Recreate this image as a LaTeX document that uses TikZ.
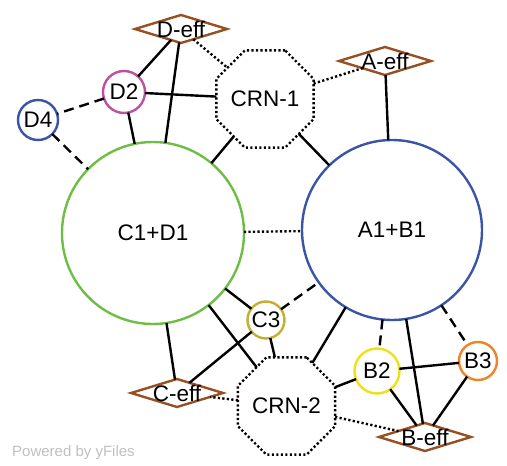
\documentclass[tikz,border=0pt]{standalone}
\usepackage{fontspec}
\setmainfont{Liberation Sans}
\usetikzlibrary{shapes.geometric}
\definecolor{cgreen}{RGB}{110,190,70}
\definecolor{cblue}{RGB}{59,85,166}
\definecolor{cmag}{RGB}{190,80,160}
\definecolor{colive}{RGB}{196,176,48}
\definecolor{cyel}{RGB}{238,225,26}
\definecolor{corange}{RGB}{240,130,40}
\definecolor{cbrown}{RGB}{150,80,35}
\tikzset{
  lbl/.style={font=\fontsize{22.5}{27}\selectfont},
  circ/.style={circle, draw=#1, line width=2.4pt, inner sep=0pt, outer sep=0pt, lbl},
  octa/.style={regular polygon, regular polygon sides=8, draw=black, line width=2.4pt,
    dash pattern=on 2.2pt off 2.3pt, inner sep=0pt, outer sep=0pt, lbl},
  dia/.style={diamond, draw=cbrown, line width=2.4pt, minimum width=92pt, minimum height=28pt,
    inner sep=0pt, outer sep=0pt, label={[lbl, inner sep=0pt]center:#1}},
  solidedge/.style={draw=black, line width=2.4pt},
  dashedge/.style={draw=black, line width=2.4pt, dash pattern=on 10pt off 6pt},
  dotedge/.style={draw=black, line width=2.4pt, dash pattern=on 2.2pt off 2.3pt},
}
\begin{document}
\begin{tikzpicture}[x=1pt,y=-1pt]
\useasboundingbox (0,0) rectangle (507,466);
% nodes
\node[circ=cgreen, minimum size=182pt] (CD) at (153,233) {C1+D1};
\node[circ=cblue, minimum size=180pt] (AB) at (392,230) {A1+B1};
\node[octa, minimum size=97.4pt] (CRN1) at (265,99) {CRN-1};
\node[octa, minimum size=89.8pt] (CRN2) at (286.5,406) {CRN-2};
\node[dia=D-eff] (Deff) at (181,29) {};
\node[dia=A-eff] (Aeff) at (385,61) {};
\node[dia=C-eff] (Ceff) at (177,393) {};
\node[dia=B-eff] (Beff) at (425,437) {};
\node[circ=cmag, minimum size=42pt] (D2) at (124,92) {D2};
\node[circ=cblue, minimum size=40pt] (D4) at (38,120) {D4};
\node[circ=colive, minimum size=37pt] (C3) at (266,320) {C3};
\node[circ=cyel, minimum size=45pt] (B2) at (377,371) {B2};
\node[circ=corange, minimum size=38pt] (B3) at (478,361) {B3};
% edges
\path[solidedge] (Deff) -- (D2);
\path[solidedge] (Deff) -- (CD);
\path[dotedge] (Deff) -- (CRN1);
\path[solidedge] (D2) -- (CRN1);
\path[solidedge] (D2) -- (CD);
\path[dashedge] (D2) -- (D4);
\path[dashedge] (D4) -- (CD);
\path[solidedge] (CRN1) -- (CD);
\path[solidedge] (CRN1) -- (AB);
\path[dotedge] (CRN1) -- (Aeff);
\path[solidedge] (Aeff) -- (AB);
\path[dotedge] (CD) -- (AB);
\path[solidedge] (CD) -- (C3);
\path[solidedge] (CD) -- (CRN2);
\path[solidedge] (CD) -- (Ceff);
\path[solidedge] (C3) -- (Ceff);
\path[solidedge] (C3) -- (CRN2);
\path[dashedge] (C3) -- (AB);
\path[solidedge] (AB) -- (CRN2);
\path[dashedge] (AB) -- (B2);
\path[solidedge] (AB) -- (Beff);
\path[dashedge] (AB) -- (B3);
\path[solidedge] (B2) -- (B3);
\path[solidedge] (B2) -- (Beff);
\path[solidedge] (B3) -- (Beff);
\path[solidedge] (B2) -- (CRN2);
\path[dotedge] (CRN2) -- (Beff);
\path[dotedge] (CRN2) -- (Ceff);
\node[anchor=west, text=black!25, font=\fontsize{15}{18}\selectfont, inner sep=0pt] (pw) at (12,453) {Powered by yFiles};
\end{tikzpicture}
\end{document}
